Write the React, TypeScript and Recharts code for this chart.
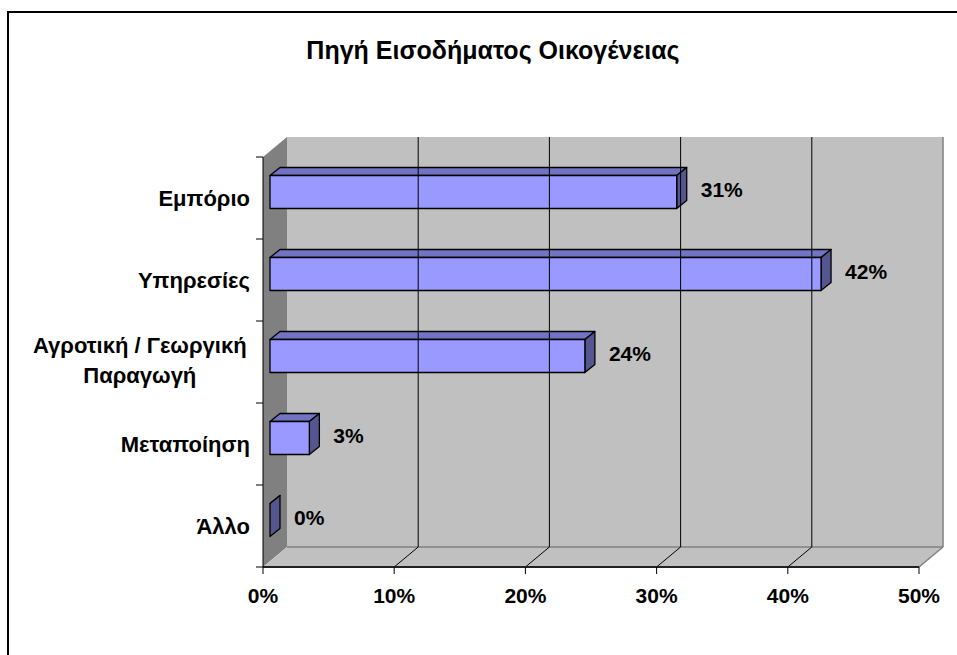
import React from "react";
import {
  BarChart,
  Bar,
  XAxis,
  YAxis,
  ReferenceArea,
  ReferenceLine,
  LabelList,
} from "recharts";

const categories = [
  "Εμπόριο",
  "Υπηρεσίες",
  "Αγροτική / Γεωργική\nΠαραγωγή",
  "Μεταποίηση",
  "Άλλο",
];
const shares = [31, 42, 24, 3, 0];
const xTicks = [0, 10, 20, 30, 40, 50];

const data = categories.map((name, i) => ({ name, value: shares[i] }));

const FONT = "Arial, 'Liberation Sans', sans-serif";
// depth of the walls and of the bars
const WALL_DX = 24;
const WALL_DY = -20;
const BAR_DX = 10;
const BAR_DY = -8;
const BAR_SHIFT_X = 7;
const BAR_SHIFT_Y = -6.5;

function Walls(props: any) {
  const { x, y, width, height } = props;
  const bottom = y + height;
  const right = x + width;
  const n = categories.length;
  return (
    <g>
      {/* left wall */}
      <polygon
        points={`${x},${y} ${x + WALL_DX},${y + WALL_DY} ${x + WALL_DX},${bottom + WALL_DY} ${x},${bottom}`}
        fill="#808080"
      />
      {/* back wall */}
      <rect
        x={x + WALL_DX}
        y={y + WALL_DY}
        width={width}
        height={height}
        fill="#c0c0c0"
      />
      {/* floor */}
      <polygon
        points={`${x},${bottom} ${x + WALL_DX},${bottom + WALL_DY} ${right + WALL_DX},${bottom + WALL_DY} ${right},${bottom}`}
        fill="#c0c0c0"
      />
      <line
        x1={x + WALL_DX}
        y1={bottom + WALL_DY}
        x2={right + WALL_DX}
        y2={bottom + WALL_DY}
        stroke="#808080"
        strokeWidth={1.5}
      />
      {/* category axis ticks sit between the categories */}
      {Array.from({ length: n + 1 }, (_, i) => (
        <line
          key={i}
          x1={x - 7}
          x2={x}
          y1={y + (height * i) / n}
          y2={y + (height * i) / n}
          stroke="#000"
        />
      ))}
    </g>
  );
}

function makeGridLine(last: boolean) {
  return (props: any) => {
    const { x1, y1, x2, y2 } = props;
    const top = Math.min(y1, y2);
    const bot = Math.max(y1, y2);
    const color = last ? "#808080" : "#000";
    const sw = last ? 1.5 : 1;
    return (
      <g>
        <line
          x1={x1 + WALL_DX}
          y1={top + WALL_DY}
          x2={x2 + WALL_DX}
          y2={bot + WALL_DY}
          stroke={color}
          strokeWidth={sw}
        />
        <line
          x1={x1}
          y1={bot}
          x2={x1 + WALL_DX}
          y2={bot + WALL_DY}
          stroke={color}
          strokeWidth={sw}
        />
      </g>
    );
  };
}

function Bar3D(props: any) {
  const { x, y, width, height } = props;
  const fx = x + BAR_SHIFT_X;
  const fy = y + BAR_SHIFT_Y;
  const w = Math.max(width, 0);
  const h = height;
  return (
    <g stroke="#000" strokeWidth={1.3} strokeLinejoin="round">
      <polygon
        points={`${fx},${fy} ${fx + BAR_DX},${fy + BAR_DY} ${fx + w + BAR_DX},${fy + BAR_DY} ${fx + w},${fy}`}
        fill="#7373c4"
      />
      <polygon
        points={`${fx + w},${fy} ${fx + w + BAR_DX},${fy + BAR_DY} ${fx + w + BAR_DX},${fy + h + BAR_DY} ${fx + w},${fy + h}`}
        fill="#55558f"
      />
      {w > 0 && <rect x={fx} y={fy} width={w} height={h} fill="#9999ff" />}
    </g>
  );
}

function ValueLabel(props: any) {
  const { x, y, width, height, value } = props;
  return (
    <text
      x={x + width + BAR_SHIFT_X + 24}
      y={y + height / 2 + BAR_SHIFT_Y + 4.5}
      textAnchor="start"
      fontFamily={FONT}
      fontWeight="bold"
      fontSize={21}
      fill="#000"
    >
      {`${value}%`}
    </text>
  );
}

function CategoryTick(props: any) {
  const { x, y, payload } = props;
  const lines = String(payload.value).split("\n");
  const fs = 22;
  const lh = 30;
  const base = y + 0.358 * fs - ((lines.length - 1) * lh) / 2 - (lines.length > 1 ? 2 : 0);
  if (lines.length === 1) {
    return (
      <text
        x={x}
        y={base}
        textAnchor="end"
        fontFamily={FONT}
        fontWeight="bold"
        fontSize={fs}
        fill="#000"
      >
        {lines[0]}
      </text>
    );
  }
  const longest = Math.max(...lines.map((l) => l.length));
  const cx = x - (longest * 11.6) / 2;
  return (
    <text
      textAnchor="middle"
      fontFamily={FONT}
      fontWeight="bold"
      fontSize={fs}
      fill="#000"
    >
      {lines.map((l, i) => (
        <tspan key={i} x={cx} y={base + i * lh}>
          {l}
        </tspan>
      ))}
    </text>
  );
}

export default function App() {
  return (
    <div
      style={{
        position: "absolute",
        left: 7,
        top: 11,
        width: 950,
        height: 644,
        borderLeft: "2px solid #000",
        borderTop: "2px solid #000",
        background: "#fff",
        overflow: "hidden",
      }}
    >
      <div
        style={{
          position: "absolute",
          left: 0,
          top: 23,
          width: 948,
          textAlign: "center",
          fontFamily: FONT,
          fontWeight: "bold",
          fontSize: 25,
          paddingLeft: 20,
          boxSizing: "border-box",
        }}
      >
        Πηγή Εισοδήματος Οικογένειας
      </div>
      <BarChart
        width={948}
        height={642}
        data={data}
        layout="vertical"
        margin={{ top: 144, right: 38, bottom: 28, left: 0 }}
        barSize={33}
      >
        <ReferenceArea x1={0} x2={50} shape={<Walls />} ifOverflow="visible" />
        {xTicks.slice(1).map((t, i) => (
          <ReferenceLine
            key={t}
            x={t}
            ifOverflow="visible"
            shape={makeGridLine(i === xTicks.length - 2)}
          />
        ))}
        <XAxis
          type="number"
          domain={[0, 50]}
          ticks={xTicks}
          tickFormatter={(v: number) => `${v}%`}
          axisLine={{ stroke: "#222", strokeWidth: 2 }}
          tickLine={{ stroke: "#000" }}
          tickSize={7}
          tickMargin={14}
          height={60}
          tick={{
            fill: "#000",
            fontFamily: FONT,
            fontWeight: "bold",
            fontSize: 21,
          }}
        />
        <YAxis
          type="category"
          dataKey="name"
          width={254}
          axisLine={{ stroke: "#000", strokeWidth: 1 }}
          tickLine={false}
          tickSize={7}
          tickMargin={6}
          tick={<CategoryTick />}
          interval={0}
        />
        <Bar dataKey="value" shape={<Bar3D />} isAnimationActive={false}>
          <LabelList dataKey="value" content={<ValueLabel />} />
        </Bar>
      </BarChart>
    </div>
  );
}
